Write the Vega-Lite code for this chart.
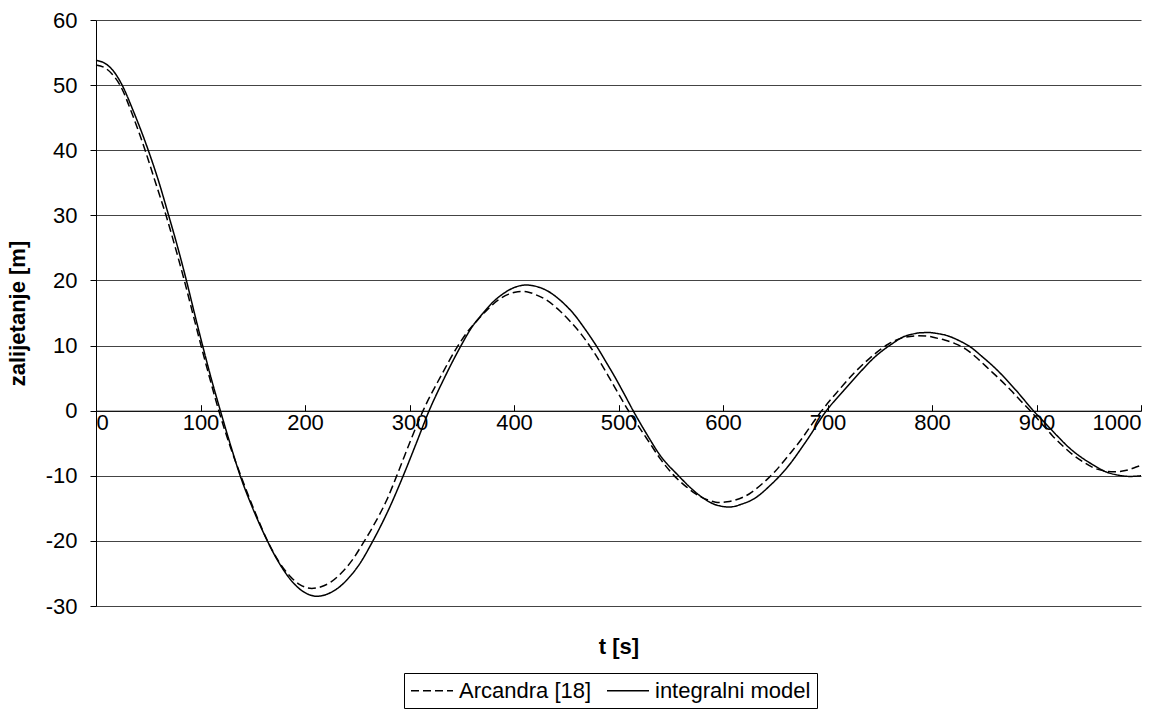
{
  "$schema": "https://vega.github.io/schema/vega-lite/v6.json",
  "width": 1045,
  "height": 586,
  "autosize": "none",
  "padding": {"left": 96, "top": 20, "right": 35, "bottom": 105},
  "background": "white",
  "config": {
    "view": {"stroke": null},
    "font": "Liberation Sans",
    "axis": {"labelFont": "Liberation Sans", "titleFont": "Liberation Sans", "labelColor": "black", "titleColor": "black"}
  },
  "datasets": {
    "integralni": [
      {"t":0,"v":53.8},{"t":8,"v":53.4},{"t":16,"v":52.3},{"t":25,"v":50.0},{"t":35,"v":46.3},{"t":50,"v":40.0},{"t":60,"v":35.2},{"t":69.5,"v":30.0},{"t":78,"v":25.2},{"t":86.5,"v":20.0},{"t":94,"v":15.1},{"t":102,"v":10.0},{"t":110,"v":5.1},{"t":119,"v":0},{"t":128,"v":-4.9},{"t":138,"v":-10.0},{"t":150,"v":-15.0},{"t":164,"v":-20.0},{"t":172,"v":-22.5},{"t":180,"v":-24.6},{"t":188,"v":-26.3},{"t":195,"v":-27.4},{"t":203,"v":-28.2},{"t":211,"v":-28.5},{"t":218,"v":-28.35},{"t":225,"v":-27.9},{"t":232,"v":-27.2},{"t":240,"v":-26.0},{"t":252,"v":-23.6},{"t":265,"v":-20.0},{"t":280,"v":-15.2},{"t":294,"v":-10.0},{"t":306,"v":-5.2},{"t":318.8,"v":0},{"t":333,"v":4.9},{"t":348,"v":9.6},{"t":360,"v":12.9},{"t":370,"v":14.9},{"t":380,"v":16.7},{"t":390,"v":18.0},{"t":400,"v":18.9},{"t":406,"v":19.2},{"t":412,"v":19.3},{"t":418,"v":19.2},{"t":425,"v":18.9},{"t":432,"v":18.4},{"t":441,"v":17.4},{"t":450,"v":16.1},{"t":458,"v":14.7},{"t":465,"v":13.2},{"t":472,"v":11.6},{"t":480,"v":9.65},{"t":488,"v":7.5},{"t":495,"v":5.6},{"t":505,"v":2.7},{"t":514,"v":0},{"t":527,"v":-3.6},{"t":540,"v":-6.9},{"t":557.5,"v":-10.0},{"t":570,"v":-12.0},{"t":580,"v":-13.3},{"t":592,"v":-14.4},{"t":599,"v":-14.7},{"t":605,"v":-14.8},{"t":611,"v":-14.7},{"t":617,"v":-14.4},{"t":630,"v":-13.5},{"t":645,"v":-11.5},{"t":660,"v":-9.0},{"t":680,"v":-4.6},{"t":699,"v":0},{"t":715,"v":3.0},{"t":730,"v":5.7},{"t":745,"v":8.2},{"t":763,"v":10.4},{"t":772,"v":11.3},{"t":780,"v":11.7},{"t":788,"v":11.95},{"t":796.5,"v":12.0},{"t":805,"v":11.85},{"t":815,"v":11.5},{"t":826,"v":10.75},{"t":836.6,"v":9.8},{"t":848,"v":8.3},{"t":860,"v":6.6},{"t":880,"v":3.2},{"t":897,"v":0},{"t":910,"v":-2.2},{"t":920,"v":-3.9},{"t":932,"v":-5.8},{"t":945,"v":-7.4},{"t":955,"v":-8.4},{"t":965,"v":-9.3},{"t":978,"v":-9.9},{"t":990,"v":-10.1},{"t":1000,"v":-10.0}
    ],
    "arcandra": [
      {"t":0,"v":53.1},{"t":8,"v":52.7},{"t":16,"v":51.6},{"t":23,"v":50.0},{"t":35,"v":45.4},{"t":47,"v":40.0},{"t":57,"v":35.0},{"t":67,"v":30.0},{"t":76,"v":25.0},{"t":84.5,"v":20.0},{"t":92.5,"v":15.0},{"t":100.5,"v":10.0},{"t":109,"v":4.9},{"t":117.5,"v":0},{"t":128,"v":-5.3},{"t":140,"v":-10.6},{"t":152,"v":-15.5},{"t":165,"v":-20.3},{"t":175,"v":-23.2},{"t":185,"v":-25.3},{"t":195,"v":-26.7},{"t":201,"v":-27.15},{"t":206.5,"v":-27.3},{"t":212,"v":-27.2},{"t":218,"v":-26.9},{"t":225,"v":-26.3},{"t":235,"v":-24.9},{"t":245,"v":-23.0},{"t":255,"v":-20.5},{"t":265,"v":-17.8},{"t":278,"v":-13.8},{"t":290,"v":-9.1},{"t":301,"v":-4.6},{"t":313,"v":0},{"t":330,"v":5.3},{"t":345,"v":9.6},{"t":355,"v":12.0},{"t":365,"v":13.9},{"t":375,"v":15.6},{"t":385,"v":17.0},{"t":395,"v":17.9},{"t":401,"v":18.2},{"t":407.5,"v":18.3},{"t":414,"v":18.2},{"t":421,"v":17.8},{"t":430,"v":17.1},{"t":444,"v":15.3},{"t":455,"v":13.5},{"t":465,"v":11.6},{"t":478,"v":8.6},{"t":490,"v":5.4},{"t":500,"v":2.6},{"t":509.5,"v":0},{"t":520,"v":-2.6},{"t":530,"v":-5.0},{"t":540,"v":-7.4},{"t":552.7,"v":-9.9},{"t":565,"v":-11.7},{"t":575,"v":-12.9},{"t":587,"v":-13.8},{"t":593,"v":-14.05},{"t":598,"v":-14.1},{"t":604,"v":-14.0},{"t":610,"v":-13.8},{"t":625,"v":-12.8},{"t":637,"v":-11.3},{"t":650,"v":-9.3},{"t":662,"v":-7.0},{"t":675,"v":-4.4},{"t":685,"v":-2.1},{"t":694.5,"v":0},{"t":710,"v":3.0},{"t":725,"v":5.7},{"t":740,"v":8.0},{"t":758,"v":10.2},{"t":770,"v":11.1},{"t":779,"v":11.4},{"t":787,"v":11.5},{"t":795,"v":11.45},{"t":803,"v":11.2},{"t":812,"v":10.85},{"t":822,"v":10.3},{"t":832,"v":9.5},{"t":845,"v":7.8},{"t":855,"v":6.3},{"t":865,"v":4.8},{"t":875,"v":3.2},{"t":885,"v":1.5},{"t":894,"v":0},{"t":905,"v":-2.0},{"t":915,"v":-3.8},{"t":925,"v":-5.4},{"t":935,"v":-6.8},{"t":945,"v":-7.9},{"t":955,"v":-8.8},{"t":965,"v":-9.25},{"t":974,"v":-9.4},{"t":985,"v":-9.2},{"t":993,"v":-8.8},{"t":1000,"v":-8.4}
    ]
  },
  "layer": [
    {
      "data": {"name": "arcandra"},
      "transform": [{"calculate": "'Arcandra [18]'", "as": "series"}],
      "mark": {"type": "line", "interpolate": "monotone", "color": "black", "strokeWidth": 1.5},
      "encoding": {
        "x": {"field": "t", "type": "quantitative", "scale": {"domain": [0, 1000], "nice": false, "zero": false},
          "axis": {"values": [0,100,200,300,400,500,600,700,800,900,1000], "labelExpr": "'' + datum.value", "offset": -195.3, "grid": false, "domainColor": "black", "domainWidth": 1, "tickColor": "black", "tickSize": -6, "labelFontSize": 22, "labelPadding": 8, "title": "t [s]", "titleFontSize": 22, "titleFontWeight": "bold", "titleY": 236, "titleBaseline": "middle"}},
        "y": {"field": "v", "type": "quantitative", "scale": {"domain": [-30, 60], "nice": false, "zero": false},
          "axis": {"values": [-30,-20,-10,0,10,20,30,40,50,60], "labelExpr": "'' + datum.value", "grid": true, "gridColor": "#444", "gridWidth": 1, "domainColor": "black", "tickColor": "black", "tickSize": 6, "labelFontSize": 22, "labelPadding": 13, "title": "zalijetanje [m]", "titleFontSize": 22, "titleFontWeight": "bold", "titleX": -79, "titleBaseline": "middle"}},
        "strokeDash": {"field": "series", "type": "nominal",
          "scale": {"domain": ["Arcandra [18]", "integralni model"], "range": [[8, 4], [1, 0]]},
          "legend": {"title": null, "orient": "none", "legendX": 308, "legendY": 653, "direction": "horizontal", "strokeColor": "black", "padding": 6, "symbolType": "M-1,0H3", "symbolSize": 441, "symbolStrokeColor": "black", "symbolStrokeWidth": 1.5, "labelFontSize": 22, "labelFont": "Liberation Sans", "labelColor": "black", "labelOffset": 26, "columnPadding": 12, "symbolDash": [9, 4]}}
      }
    },
    {
      "data": {"name": "integralni"},
      "transform": [{"calculate": "'integralni model'", "as": "series"}],
      "mark": {"type": "line", "interpolate": "monotone", "color": "black", "strokeWidth": 1.5},
      "encoding": {
        "x": {"field": "t", "type": "quantitative"},
        "y": {"field": "v", "type": "quantitative"},
        "strokeDash": {"field": "series", "type": "nominal"}
      }
    }
  ]
}
